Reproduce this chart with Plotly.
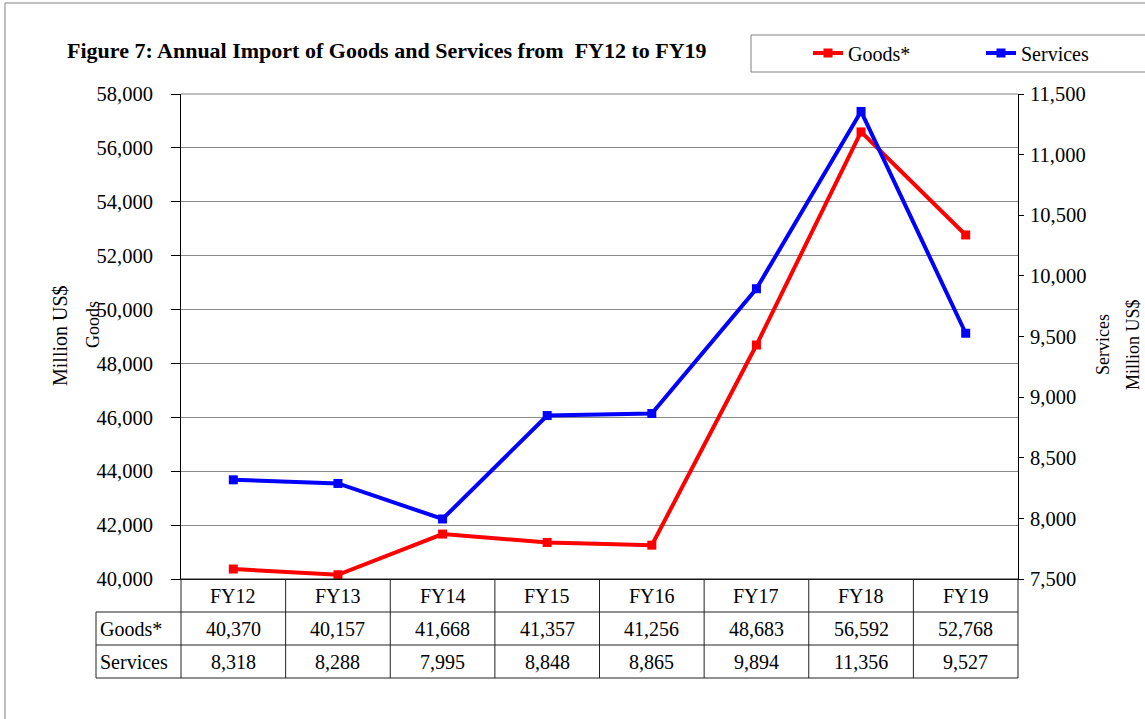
import plotly.graph_objects as go

categories = ["FY12", "FY13", "FY14", "FY15", "FY16", "FY17", "FY18", "FY19"]
goods = [40370, 40157, 41668, 41357, 41256, 48683, 56592, 52768]
services = [8318, 8288, 7995, 8848, 8865, 9894, 11356, 9527]
row_labels = ["Goods*", "Services"]

W, H = 1145, 719
L, R, T, B = 181, 1018, 94, 579
pw, ph = R - L, B - T

def px(x):
    return (x - L) / pw

def py(y):
    return (B - y) / ph

FONT = "Liberation Serif, Times New Roman, serif"
xs = list(range(len(categories)))

fig = go.Figure()
fig.add_trace(go.Scatter(x=xs, y=goods, name="Goods*", mode="lines+markers",
                         line=dict(color="#ff0000", width=4),
                         marker=dict(symbol="square", size=9, color="#ff0000"),
                         yaxis="y"))
fig.add_trace(go.Scatter(x=xs, y=services, name="Services", mode="lines+markers",
                         line=dict(color="#0000ff", width=4),
                         marker=dict(symbol="square", size=9, color="#0000ff"),
                         yaxis="y2"))

shapes = []
# outer border
shapes.append(dict(type="rect", xref="paper", yref="paper",
                   x0=px(5), x1=px(1160), y0=py(3), y1=py(730),
                   line=dict(color="#808080", width=1)))
# legend box
shapes.append(dict(type="rect", xref="paper", yref="paper",
                   x0=px(751), x1=px(1160), y0=py(35), y1=py(72),
                   line=dict(color="#808080", width=1)))
# top border of plot
shapes.append(dict(type="line", xref="paper", yref="paper",
                   x0=0, x1=1, y0=1, y1=1, line=dict(color="#808080", width=1)))

# table
n = len(categories)
cw = pw / n
row_h = 33
rows_y = [B, B + row_h, B + 2 * row_h, B + 3 * row_h]
lc = "#222222"
for i, yy in enumerate(rows_y):
    x0 = L if i == 0 else 96
    shapes.append(dict(type="line", xref="paper", yref="paper",
                       x0=px(x0), x1=px(R), y0=py(yy), y1=py(yy),
                       line=dict(color=lc, width=1)))
for k in range(n + 1):
    xx = L + k * cw
    shapes.append(dict(type="line", xref="paper", yref="paper",
                       x0=px(xx), x1=px(xx), y0=py(rows_y[0]), y1=py(rows_y[3]),
                       line=dict(color=lc, width=1)))
shapes.append(dict(type="line", xref="paper", yref="paper",
                   x0=px(96), x1=px(96), y0=py(rows_y[1]), y1=py(rows_y[3]),
                   line=dict(color=lc, width=1)))

annotations = []
tfont = dict(family=FONT, size=20, color="black")
for k, c in enumerate(categories):
    xc = L + (k + 0.5) * cw
    annotations.append(dict(x=px(xc), y=py(rows_y[0] + row_h / 2), xref="paper", yref="paper",
                            text=c, showarrow=False, font=tfont, xanchor="center", yanchor="middle"))
    annotations.append(dict(x=px(xc), y=py(rows_y[1] + row_h / 2), xref="paper", yref="paper",
                            text=f"{goods[k]:,}", showarrow=False, font=tfont, xanchor="center", yanchor="middle"))
    annotations.append(dict(x=px(xc), y=py(rows_y[2] + row_h / 2), xref="paper", yref="paper",
                            text=f"{services[k]:,}", showarrow=False, font=tfont, xanchor="center", yanchor="middle"))
for j, lab in enumerate(row_labels):
    annotations.append(dict(x=px(98), y=py(rows_y[j + 1] + row_h / 2), xref="paper", yref="paper",
                            text=lab, showarrow=False, font=tfont, xanchor="left", yanchor="middle"))

# title
annotations.append(dict(x=px(65), y=py(50), xref="paper", yref="paper",
                        text="<b>Figure 7: Annual Import of Goods and Services from  FY12 to FY19</b>",
                        showarrow=False, font=dict(family=FONT, size=22, color="black"),
                        xanchor="left", yanchor="middle"))
# axis titles
annotations.append(dict(x=px(60), y=py(335), xref="paper", yref="paper", text="Million US$",
                        textangle=-90, showarrow=False, font=dict(family=FONT, size=20, color="black"),
                        xanchor="center", yanchor="middle"))
annotations.append(dict(x=px(93), y=py(325), xref="paper", yref="paper", text="Goods",
                        textangle=-90, showarrow=False, font=dict(family=FONT, size=18, color="black"),
                        xanchor="center", yanchor="middle"))
annotations.append(dict(x=px(1103), y=py(345), xref="paper", yref="paper", text="Services",
                        textangle=-90, showarrow=False, font=dict(family=FONT, size=18, color="black"),
                        xanchor="center", yanchor="middle"))
annotations.append(dict(x=px(1133), y=py(345), xref="paper", yref="paper", text="Million US$",
                        textangle=-90, showarrow=False, font=dict(family=FONT, size=18, color="black"),
                        xanchor="center", yanchor="middle"))

fig.update_layout(
    width=W, height=H,
    margin=dict(l=L, r=W - R, t=T, b=H - B, autoexpand=False),
    paper_bgcolor="white", plot_bgcolor="white",
    font=dict(family=FONT, size=20, color="black"),
    showlegend=True,
    legend=dict(orientation="h", x=px(808), y=py(53), xanchor="left", yanchor="middle",
                font=dict(family=FONT, size=20), bgcolor="rgba(0,0,0,0)",
                entrywidth=128, entrywidthmode="pixels", tracegroupgap=0),
    xaxis=dict(range=[-0.5, n - 0.5], showticklabels=False, showgrid=False, zeroline=False,
               showline=True, linecolor="black", linewidth=1, ticks="", fixedrange=True),
    yaxis=dict(range=[40000, 58000], dtick=2000, tickformat=",", showgrid=True,
               gridcolor="#888888", gridwidth=1, zeroline=False, showline=True,
               linecolor="black", linewidth=1, ticks="outside", ticklen=9, tickcolor="black",
               ticklabelstandoff=14, tickfont=dict(family=FONT, size=20.5)),
    yaxis2=dict(range=[7500, 11500], dtick=500, tickformat=",", overlaying="y", side="right",
                showgrid=False, zeroline=False, showline=True, linecolor="black", linewidth=1,
                ticks="outside", ticklen=5, tickcolor="black", ticklabelstandoff=2,
                tickfont=dict(family=FONT, size=20.5)),
    shapes=shapes,
    annotations=annotations,
)

fig.write_html("out.html", config={"displayModeBar": False},
               post_script="document.body.style.margin='0';document.body.style.overflow='hidden';")
